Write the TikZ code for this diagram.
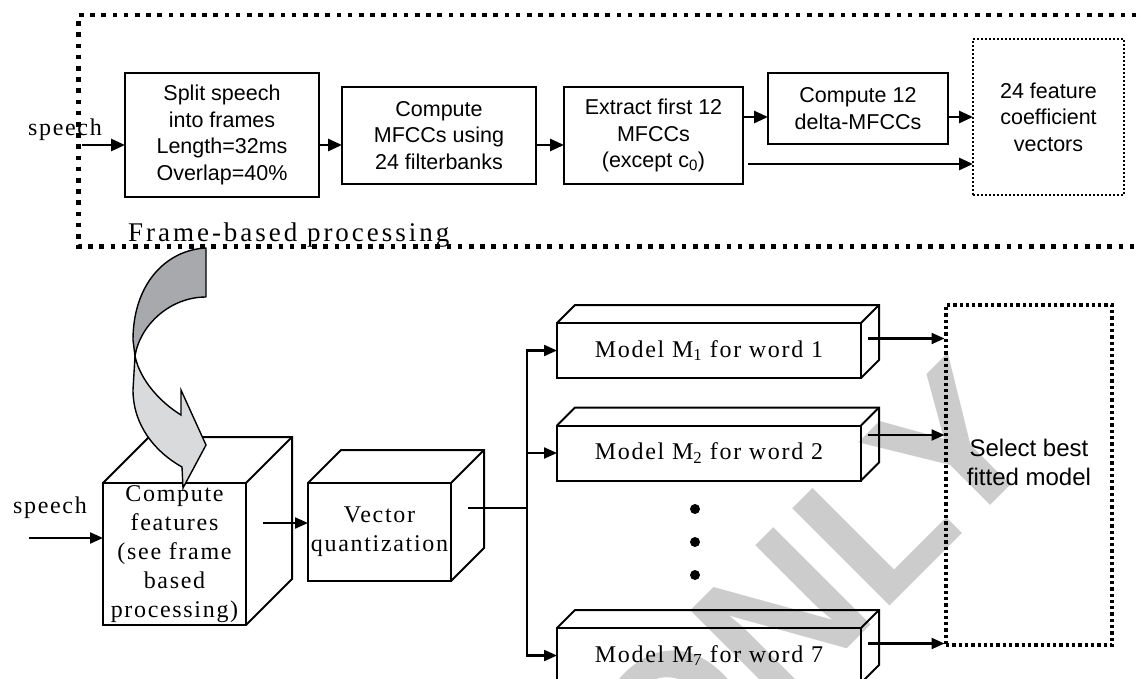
\documentclass[tikz,border=0pt]{standalone}
\usepackage{fontspec}
\setmainfont{Liberation Serif}
\setsansfont{Liberation Sans}
\newfontfamily\spacedserif[LetterSpace=7]{Liberation Serif}
\newfontfamily\wideserif[LetterSpace=11]{Liberation Serif}
\usetikzlibrary{arrows.meta,calc}

\definecolor{wmgray}{gray}{0.8}
\definecolor{ribbondark}{HTML}{A7A9AC}
\definecolor{ribbonlight}{HTML}{D9DADC}

\newcommand\topfont{\sffamily\fontsize{21.5}{26.5}\selectfont}
\newcommand\serfont{\spacedserif\fontsize{24}{29}\selectfont}

% side and top faces of a solid block whose front face is node #1
\newcommand\solidfaces[2]{%
  \draw[edge] (#1.north west) -- ++(#2,-#2) -- ($(#1.north east)+(#2,-#2)$)
    -- ($(#1.south east)+(#2,-#2)$) -- (#1.south east);
  \draw[edge] (#1.north east) -- ++(#2,-#2);}

\begin{document}
\begin{tikzpicture}[x=1pt,y=-1pt,
  stagebox/.style={draw,line width=2.2pt,inner sep=0pt,outer sep=0pt,align=center,font=\topfont},
  solidbox/.style={draw,line width=2pt,inner sep=0pt,outer sep=0pt,align=center,font=\serfont},
  arr/.style={line width=2.8pt,-{Triangle[length=14pt,width=12pt]}},
  thinarr/.style={line width=2.2pt,-{Triangle[length=13pt,width=11pt]}},
  wire/.style={line width=2.2pt},
  edge/.style={line width=2pt,line join=miter},
  lbl/.style={inner sep=0pt,font=\serfont},
  dot/.style={circle,fill,inner sep=0pt,minimum size=10pt}
]
\useasboundingbox (0,0) rectangle (1141,678);

% watermark
\node[rotate=45,anchor=base west,inner sep=0pt,text=wmgray,
      font=\sffamily\bfseries\fontsize{200}{200}\selectfont] (wm) at (668,828) {ONLY};

% ---------- frame-based processing ----------
\draw[line width=4.7pt,dash pattern=on 4.7pt off 6.5pt]
  (1170,15) -- (78.5,15) -- (78.5,246.7) -- (1170,246.7);
\node[anchor=base west,inner sep=0pt,font=\wideserif\fontsize{27}{27}\selectfont]
  (fbp) at (128,241) {Frame-based processing};

\node[stagebox,minimum width=194pt,minimum height=124pt] (split) at (222,135)
  {Split speech\\into frames\\Length=32ms\\Overlap=40\%};
\node[stagebox,minimum width=194pt,minimum height=97pt] (mfcc) at (439,135.5)
  {Compute\\MFCCs using\\24 filterbanks};
\node[stagebox,minimum width=179pt,minimum height=97pt] (first) at (653.5,135.5)
  {Extract first 12\\MFCCs\\(except c\textsubscript{0})};
\node[stagebox,minimum width=180pt,minimum height=71pt] (delta) at (858,108.5)
  {Compute 12\\delta-MFCCs};
\node[stagebox,line width=2pt,dash pattern=on 2pt off 2pt,minimum width=151pt,minimum height=156pt]
  (vecs) at (1048.5,117) {24 feature\\coefficient\\vectors};

\node[lbl,anchor=base] (spk1) at (65,135) {speech};
\coordinate (sin) at (82,145);
\coordinate (row1) at (0,117);
\coordinate (skip) at (748,164);
\draw[arr] (sin) -- (sin -| split.west);
\draw[arr] (split.east |- sin) -- (mfcc.west |- sin);
\draw[arr] (mfcc.east |- sin) -- (first.west |- sin);
\draw[arr] (first.east |- row1) -- (delta.west |- row1);
\draw[arr] (delta.east |- row1) -- (vecs.west |- row1);
\draw[arr] (skip) -- (vecs.west |- skip);

% ---------- recognition ----------
\node[draw,line width=3.3pt,dash pattern=on 3.3pt off 3pt,inner sep=0pt,outer sep=0pt,
      minimum width=166pt,minimum height=340pt] (sel) at (1029,475) {};
\node[inner sep=0pt,align=center,font=\sffamily\fontsize{24}{29}\selectfont]
  (seltxt) at (1029,462) {Select best\\fitted model};

\node[solidbox,minimum width=143pt,minimum height=142pt] (feat) at (174.5,554)
  {Compute\\features\\(see frame\\based\\processing)};
\solidfaces{feat}{46}
\node[solidbox,minimum width=143pt,minimum height=98pt] (vq) at (379.5,532)
  {Vector\\quantization};
\solidfaces{vq}{33}
\node[solidbox,minimum width=304pt,minimum height=55pt] (m1) at (709,350.5)
  {Model M\textsubscript{1} for word 1};
\solidfaces{m1}{18}
\node[solidbox,minimum width=304pt,minimum height=55pt] (m2) at (709,453)
  {Model M\textsubscript{2} for word 2};
\solidfaces{m2}{18}
\node[solidbox,minimum width=304pt,minimum height=55pt] (m7) at (709,655.5)
  {Model M\textsubscript{7} for word 7};
\solidfaces{m7}{18}

\node[dot] (d1) at (695,509) {};
\node[dot] (d2) at (695,542) {};
\node[dot] (d3) at (695,575) {};

\node[lbl,anchor=base] (spk2) at (50,513) {speech};
\coordinate (sin2) at (29,538);
\coordinate (fout) at (263,523);
\coordinate (vout) at (468,508);
\coordinate (bus) at (527,508);
\draw[thinarr] (sin2) -- (sin2 -| feat.west);
\draw[thinarr] (fout) -- (fout -| vq.west);
\draw[wire] (vout) -- (bus);
\draw[wire,line cap=rect] (bus |- m1) -- (bus |- m7);
\draw[thinarr] (bus |- m1) -- (m1.west);
\draw[thinarr] (bus |- m2) -- (m2.west);
\draw[thinarr] (bus |- m7) -- (m7.west);

\coordinate (o1) at ($(m1.east)+(7,-12)$);
\coordinate (o2) at ($(m2.east)+(7,-18)$);
\coordinate (o7) at ($(m7.east)+(7,-12)$);
\draw[thinarr,shorten >=1.5pt] (o1) -- (o1 -| sel.west);
\draw[thinarr,shorten >=1.5pt] (o2) -- (o2 -| sel.west);
\draw[thinarr,shorten >=1.5pt] (o7) -- (o7 -| sel.west);

% twisted ribbon arrow from the frame-based part into the feature block
\draw[line width=1.4pt,fill=ribbondark,line join=round]
  (206,248) .. controls (165,250) and (133,285) .. (133,340) -- (135,356)
  .. controls (140,325) and (170,297) .. (206,297) -- cycle;
\draw[line width=1.4pt,fill=ribbonlight,line join=miter]
  (135,356) -- (133,390) .. controls (133,425) and (155,452) .. (182,467)
  -- (183,488) -- (206,445) -- (181,390) -- (181,415)
  .. controls (160,402) and (140,380) .. (135,356) -- cycle;
\end{tikzpicture}
\end{document}
